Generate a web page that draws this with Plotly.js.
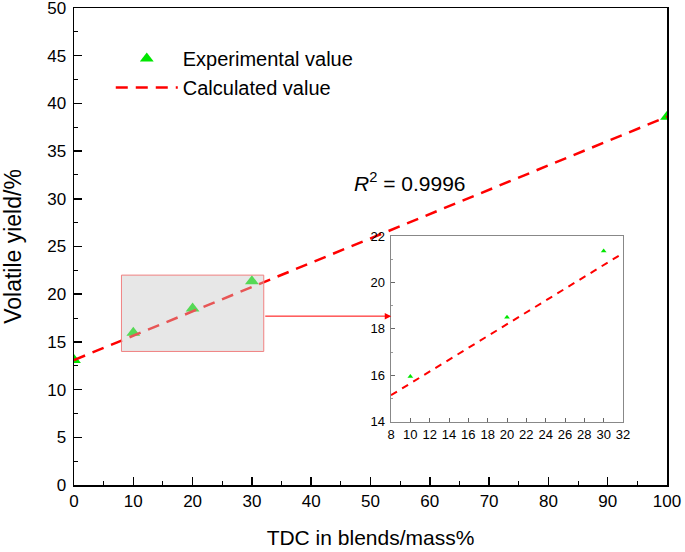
<!DOCTYPE html>
<html>
<head>
<meta charset="utf-8">
<script src="https://cdn.plot.ly/plotly-3.0.1.min.js"></script>
<style>html,body{margin:0;padding:0;background:#fff;}#chart{width:685px;height:552px;}</style>
</head>
<body>
<div id="chart"></div>
<script>
// Data
var tdcExp = [0, 10, 20, 30, 100];
var yieldExp = [13.1, 15.95, 18.5, 21.35, 38.6];
var tdcCalc = [0, 10, 20, 30, 100];
var yieldCalc = [13.1, 15.65, 18.2, 20.75, 38.6];
var tdcInsetCalc = [8, 32];
var yieldInsetCalc = [15.14, 21.26];
var r2Text = '<i>R</i><sup>2</sup> = 0.9996';
var xTitle = 'TDC in blends/mass%';
var yTitle = 'Volatile yield/%';

var FONT = 'Liberation Sans, Arial, Helvetica, sans-serif';
var GREEN = '#00e600';
var RED = '#ff0000';

var traces = [
  {x: tdcExp, y: yieldExp, type: 'scatter', mode: 'markers', name: 'Experimental value',
   marker: {symbol: 'triangle-up', size: 12, color: GREEN}, legendgroup: 'a', xaxis: 'x', yaxis: 'y'},
  {x: tdcCalc, y: yieldCalc, type: 'scatter', mode: 'lines', name: 'Calculated value',
   line: {color: RED, width: 2.5, dash: '12px,8px'}, legendgroup: 'b', xaxis: 'x', yaxis: 'y'},
  {x: tdcExp.slice(1, 4), y: yieldExp.slice(1, 4), type: 'scatter', mode: 'markers', showlegend: false,
   marker: {symbol: 'triangle-up', size: 5, color: GREEN}, xaxis: 'x2', yaxis: 'y2'},
  {x: tdcInsetCalc, y: yieldInsetCalc, type: 'scatter', mode: 'lines', showlegend: false,
   line: {color: RED, width: 2, dash: '7px,6px'}, xaxis: 'x2', yaxis: 'y2'}
];

var layout = {
  width: 685, height: 552,
  margin: {l: 74, r: 18, t: 8, b: 67},
  paper_bgcolor: '#fff', plot_bgcolor: '#fff',
  font: {family: FONT, color: '#000', size: 17},
  showlegend: true,
  legend: {x: 0.062, y: 0.935, xanchor: 'left', yanchor: 'top', bgcolor: 'rgba(0,0,0,0)',
           font: {size: 20, family: FONT}, itemwidth: 62, tracegroupgap: 0, traceorder: 'grouped'},
  xaxis: {range: [0, 100], dtick: 10, ticks: 'inside', ticklen: 8, tickwidth: 1.5, tickcolor: '#000',
          showline: true, linecolor: '#000', linewidth: 1.5, mirror: true, showgrid: false, zeroline: false,
          tickfont: {size: 17}, ticklabeloverflow: 'allow',
          minor: {dtick: 5, ticks: 'inside', ticklen: 4, tickcolor: '#000', tickwidth: 1},
          title: {text: xTitle, font: {size: 21}, standoff: 20}},
  yaxis: {range: [0, 50], dtick: 5, ticks: 'inside', ticklen: 8, tickwidth: 1.5, tickcolor: '#000',
          showline: true, linecolor: '#000', linewidth: 1.5, mirror: true, showgrid: false, zeroline: false,
          tickfont: {size: 17}, ticklabeloverflow: 'allow', ticklabelstandoff: 3,
          minor: {dtick: 2.5, ticks: 'inside', ticklen: 4, tickcolor: '#000', tickwidth: 1},
          title: {text: yTitle, font: {size: 23}, standoff: 19}},
  xaxis2: {domain: [0.5346, 0.9258], anchor: 'y2', range: [8, 32], dtick: 2, ticks: 'inside', ticklen: 4,
           tickcolor: '#666', showline: true, linecolor: '#888', linewidth: 1.5, mirror: true,
           showgrid: false, zeroline: false, tickfont: {size: 13}, ticklabelstandoff: 0},
  yaxis2: {domain: [0.1327, 0.522], anchor: 'x2', range: [14, 22], dtick: 2, ticks: 'inside', ticklen: 4,
           tickcolor: '#666', showline: true, linecolor: '#888', linewidth: 1.5, mirror: true,
           showgrid: false, zeroline: false, tickfont: {size: 13}, ticklabelstandoff: 2,
           minor: {dtick: 1, ticks: 'inside', ticklen: 2, tickcolor: '#999'}},
  shapes: [
    {type: 'rect', xref: 'x2 domain', yref: 'y2 domain', x0: 0, x1: 1, y0: 0, y1: 1,
     fillcolor: '#fff', line: {width: 0}, layer: 'below'},
    {type: 'rect', xref: 'x', yref: 'y', x0: 8, x1: 32, y0: 14, y1: 22,
     fillcolor: 'rgba(200,200,200,0.43)', line: {color: '#f08080', width: 1}, layer: 'above'}
  ],
  annotations: [
    {x: 53.5, y: 17.7, ax: 32, ay: 17.7, xref: 'x', yref: 'y', axref: 'x', ayref: 'y',
     showarrow: true, arrowhead: 2, arrowsize: 1.3, arrowwidth: 1, arrowcolor: RED, text: ''},
    {x: 56.7, y: 31.8, xref: 'x', yref: 'y', text: r2Text, showarrow: false,
     font: {size: 21, family: FONT}}
  ]
};

Plotly.newPlot('chart', traces, layout, {displayModeBar: false, staticPlot: true});
</script>
</body>
</html>
